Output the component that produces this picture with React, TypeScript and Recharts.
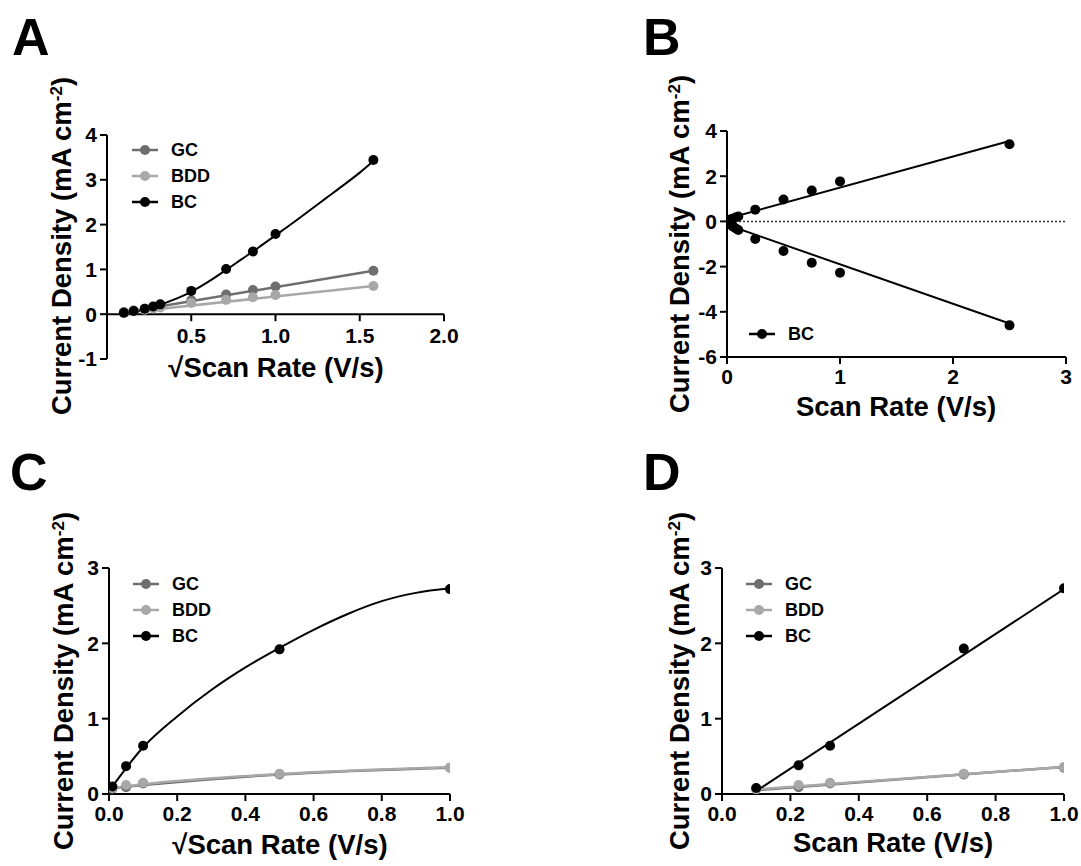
import React from "react";
import { ComposedChart, Line, Scatter, XAxis, YAxis, ReferenceLine } from "recharts";

const FONT = '"Liberation Sans", Arial, Helvetica, sans-serif';
const GC_COLOR = "#6e6e6e";
const BDD_COLOR = "#a8a8a8";
const BC_COLOR = "#000000";

// panel A: current density vs sqrt scan rate
const A_X = [0.1, 0.158, 0.224, 0.274, 0.316, 0.5, 0.707, 0.866, 1.0, 1.581];
const A_GC = [0.05, 0.08, 0.12, 0.15, 0.18, 0.31, 0.44, 0.54, 0.62, 0.97];
const A_BDD = [0.04, 0.07, 0.1, 0.13, 0.15, 0.25, 0.32, 0.38, 0.43, 0.63];
const A_BC = [0.03, 0.07, 0.12, 0.17, 0.22, 0.52, 1.01, 1.4, 1.79, 3.44];
const A_FIT_X = [0.1, 0.2, 0.3, 0.4, 0.5, 0.6, 0.7, 0.8, 0.9, 1.0, 1.1, 1.2, 1.3, 1.4, 1.5, 1.581];
const A_BC_FIT = [0.01, 0.08, 0.19, 0.33, 0.5, 0.72, 0.97, 1.23, 1.49, 1.76, 2.03, 2.31, 2.59, 2.87, 3.16, 3.42];
const A_LIN_X = [0.1, 1.581];
const A_GC_FIT = [0.04, 0.97];
const A_BDD_FIT = [0.03, 0.63];

// panel B: BC oxidation / reduction peaks vs scan rate
const B_X = [0.01, 0.025, 0.05, 0.075, 0.1, 0.25, 0.5, 0.75, 1.0, 2.5];
const B_OX = [0.05, 0.08, 0.12, 0.17, 0.22, 0.52, 0.97, 1.37, 1.77, 3.41];
const B_RED = [-0.05, -0.12, -0.22, -0.3, -0.38, -0.78, -1.31, -1.83, -2.27, -4.6];
const B_LIN_X = [0, 2.5];
const B_OX_FIT = [0.12, 3.56];
const B_RED_FIT = [-0.15, -4.52];

// panel C
const C_X = [0.01, 0.05, 0.1, 0.5, 1.0];
const C_GC = [0.07, 0.09, 0.14, 0.26, 0.35];
const C_BDD = [0.08, 0.12, 0.15, 0.27, 0.35];
const C_BC = [0.1, 0.37, 0.64, 1.92, 2.72];
const C_FIT_X = [0.01, 0.1, 0.2, 0.3, 0.4, 0.5, 0.6, 0.7, 0.8, 0.9, 1.0];
const C_BC_FIT = [0.1, 0.62, 1.03, 1.38, 1.68, 1.94, 2.18, 2.39, 2.56, 2.67, 2.73];
const C_LOW_X = [0.01, 0.1, 0.5, 1.0];
const C_GC_FIT = [0.08, 0.12, 0.26, 0.35];
const C_BDD_FIT = [0.08, 0.13, 0.265, 0.355];

// panel D
const D_X = [0.1, 0.224, 0.316, 0.707, 1.0];
const D_GC = [0.07, 0.09, 0.14, 0.26, 0.35];
const D_BDD = [0.06, 0.12, 0.15, 0.27, 0.36];
const D_BC = [0.08, 0.38, 0.64, 1.93, 2.73];
const D_LIN_X = [0.1, 1.0];
const D_GC_FIT = [0.05, 0.36];
const D_BDD_FIT = [0.06, 0.36];
const D_BC_FIT = [0.04, 2.72];

const pts = (xs: number[], ys: number[]) => xs.map((x, i) => ({ x, y: ys[i] }));

const tickStyle = { fill: "#000", fontSize: 21, fontWeight: 700, fontFamily: FONT };

type LineSpec = { data: { x: number; y: number }[]; color: string; curve?: boolean; width?: number };
type DotSpec = { data: { x: number; y: number }[]; color: string };

function ZeroTick(props: any) {
  const { x, y, payload, shift } = props;
  const y0 = y - shift;
  return (
    <g>
      <line x1={x} x2={x} y1={y0} y2={y0 + 7} stroke="#000" strokeWidth={2} />
      <text x={x} y={y0 + 29} textAnchor="middle" {...tickStyle}>
        {Number(payload.value).toFixed(1)}
      </text>
    </g>
  );
}

function Panel(props: {
  left: number;
  top: number;
  w: number;
  h: number;
  xDomain: number[];
  xTicks: number[];
  xDigits: number;
  yDomain: number[];
  yTicks: number[];
  zeroAxis?: boolean;
  zeroDotted?: boolean;
  lines: LineSpec[];
  dots: DotSpec[];
}) {
  const { left, top, w, h, xDomain, xTicks, xDigits, yDomain, yTicks, zeroAxis, zeroDotted, lines, dots } = props;
  const YW = 50;
  const MT = 18;
  const MR = 26;
  const XH = 40;
  const shift = zeroAxis ? (h * (0 - yDomain[0])) / (yDomain[1] - yDomain[0]) : 0;
  return (
    <div style={{ position: "absolute", left: left - YW, top: top - MT }}>
      <ComposedChart width={YW + w + MR} height={MT + h + XH} margin={{ top: MT, right: MR, bottom: 0, left: 0 }}>
        <XAxis
          type="number"
          dataKey="x"
          domain={xDomain}
          ticks={xTicks}
          interval={0}
          height={XH}
          allowDataOverflow
          axisLine={zeroAxis ? false : { stroke: "#000", strokeWidth: 2 }}
          tickLine={zeroAxis ? false : { stroke: "#000", strokeWidth: 2 }}
          tickSize={zeroAxis ? 0 : 7}
          tickMargin={zeroAxis ? 0 : 5}
          tick={zeroAxis ? (p: any) => <ZeroTick {...p} shift={shift} /> : tickStyle}
          tickFormatter={(v: number) => v.toFixed(xDigits)}
        />
        <YAxis
          type="number"
          domain={yDomain}
          ticks={yTicks}
          interval={0}
          width={YW}
          allowDataOverflow
          axisLine={{ stroke: "#000", strokeWidth: 2 }}
          tickLine={{ stroke: "#000", strokeWidth: 2 }}
          tickSize={7}
          tickMargin={3}
          tick={tickStyle}
        />
        {zeroAxis && <ReferenceLine y={0} stroke="#000" strokeWidth={2} />}
        {zeroDotted && <ReferenceLine y={0} stroke="#333" strokeWidth={1.5} strokeDasharray="2 2" />}
        {lines.map((l, i) => (
          <Line
            key={"l" + i}
            data={l.data}
            dataKey="y"
            type={l.curve ? "monotone" : "linear"}
            stroke={l.color}
            strokeWidth={l.width ?? 2}
            dot={false}
            activeDot={false}
            isAnimationActive={false}
          />
        ))}
        {dots.map((d, i) => (
          <Scatter
            key={"d" + i}
            data={d.data}
            dataKey="y"
            isAnimationActive={false}
            shape={(p: any) => <circle cx={p.cx} cy={p.cy} r={5} fill={d.color} />}
          />
        ))}
      </ComposedChart>
    </div>
  );
}

function LegendBox({ left, top, items }: { left: number; top: number; items: { label: string; color: string }[] }) {
  return (
    <div style={{ position: "absolute", left, top }}>
      {items.map((it) => (
        <div key={it.label} style={{ display: "flex", alignItems: "center", height: 26 }}>
          <svg width={26} height={12}>
            <line x1={0} x2={26} y1={6} y2={6} stroke={it.color} strokeWidth={2.5} />
            <circle cx={13} cy={6} r={5} fill={it.color} />
          </svg>
          <span style={{ marginLeft: 13, fontSize: 18, fontWeight: 700, fontFamily: FONT, color: "#000", lineHeight: "26px" }}>
            {it.label}
          </span>
        </div>
      ))}
    </div>
  );
}

const titleStyle: React.CSSProperties = {
  position: "absolute",
  whiteSpace: "nowrap",
  fontSize: 27.5,
  fontWeight: 700,
  fontFamily: FONT,
  lineHeight: "30px",
  color: "#000",
};

function YTitle({ cx, cy }: { cx: number; cy: number }) {
  return (
    <div style={{ ...titleStyle, left: cx, top: cy, transform: "translate(-50%, -50%) rotate(-90deg)" }}>
      Current Density (mA cm<sup style={{ fontSize: "0.62em", lineHeight: 0, verticalAlign: "0.55em" }}>-2</sup>)
    </div>
  );
}

function XTitle({ cx, cy, text }: { cx: number; cy: number; text: string }) {
  return <div style={{ ...titleStyle, left: cx, top: cy, transform: "translate(-50%, -50%)" }}>{text}</div>;
}

function Letter({ left, top, text }: { left: number; top: number; text: string }) {
  return (
    <div style={{ position: "absolute", left, top, fontSize: 52, lineHeight: "52px", fontWeight: 700, fontFamily: FONT }}>
      {text}
    </div>
  );
}

const threeLegend = [
  { label: "GC", color: GC_COLOR },
  { label: "BDD", color: BDD_COLOR },
  { label: "BC", color: BC_COLOR },
];

export default function App() {
  return (
    <div style={{ position: "absolute", left: 0, top: 0, width: 1081, height: 866, background: "#fff", overflow: "hidden" }}>
      <Letter left={12} top={11} text="A" />
      <Letter left={643} top={11} text="B" />
      <Letter left={10} top={446} text="C" />
      <Letter left={643} top={446} text="D" />

      <Panel
        left={107}
        top={135}
        w={337}
        h={224}
        xDomain={[0, 2]}
        xTicks={[0.5, 1, 1.5, 2]}
        xDigits={1}
        yDomain={[-1, 4]}
        yTicks={[-1, 0, 1, 2, 3, 4]}
        zeroAxis
        lines={[
          { data: pts(A_LIN_X, A_GC_FIT), color: GC_COLOR, width: 2.5 },
          { data: pts(A_LIN_X, A_BDD_FIT), color: BDD_COLOR, width: 2.5 },
          { data: pts(A_FIT_X, A_BC_FIT), color: BC_COLOR, curve: true },
        ]}
        dots={[
          { data: pts(A_X, A_GC), color: GC_COLOR },
          { data: pts(A_X, A_BDD), color: BDD_COLOR },
          { data: pts(A_X, A_BC), color: BC_COLOR },
        ]}
      />
      <LegendBox left={132} top={137} items={threeLegend} />
      <YTitle cx={62} cy={246} />
      <XTitle cx={276} cy={368} text="√Scan Rate (V/s)" />

      <Panel
        left={727}
        top={131}
        w={339}
        h={226}
        xDomain={[0, 3]}
        xTicks={[0, 1, 2, 3]}
        xDigits={0}
        yDomain={[-6, 4]}
        yTicks={[-6, -4, -2, 0, 2, 4]}
        zeroDotted
        lines={[
          { data: pts(B_LIN_X, B_OX_FIT), color: BC_COLOR },
          { data: pts(B_LIN_X, B_RED_FIT), color: BC_COLOR },
        ]}
        dots={[
          { data: pts(B_X, B_OX), color: BC_COLOR },
          { data: pts(B_X, B_RED), color: BC_COLOR },
        ]}
      />
      <LegendBox left={749} top={321} items={[{ label: "BC", color: BC_COLOR }]} />
      <YTitle cx={680} cy={244} />
      <XTitle cx={896} cy={407} text="Scan Rate (V/s)" />

      <Panel
        left={109}
        top={568}
        w={341}
        h={226}
        xDomain={[0, 1]}
        xTicks={[0, 0.2, 0.4, 0.6, 0.8, 1]}
        xDigits={1}
        yDomain={[0, 3]}
        yTicks={[0, 1, 2, 3]}
        lines={[
          { data: pts(C_LOW_X, C_GC_FIT), color: GC_COLOR, curve: true, width: 2.5 },
          { data: pts(C_LOW_X, C_BDD_FIT), color: BDD_COLOR, curve: true, width: 2.5 },
          { data: pts(C_FIT_X, C_BC_FIT), color: BC_COLOR, curve: true },
        ]}
        dots={[
          { data: pts(C_X, C_GC), color: GC_COLOR },
          { data: pts(C_X, C_BDD), color: BDD_COLOR },
          { data: pts(C_X, C_BC), color: BC_COLOR },
        ]}
      />
      <LegendBox left={133} top={571} items={threeLegend} />
      <YTitle cx={64} cy={681} />
      <XTitle cx={280} cy={845} text="√Scan Rate (V/s)" />

      <Panel
        left={722}
        top={568}
        w={342}
        h={226}
        xDomain={[0, 1]}
        xTicks={[0, 0.2, 0.4, 0.6, 0.8, 1]}
        xDigits={1}
        yDomain={[0, 3]}
        yTicks={[0, 1, 2, 3]}
        lines={[
          { data: pts(D_LIN_X, D_GC_FIT), color: GC_COLOR, width: 2.5 },
          { data: pts(D_LIN_X, D_BDD_FIT), color: BDD_COLOR, width: 2.5 },
          { data: pts(D_LIN_X, D_BC_FIT), color: BC_COLOR },
        ]}
        dots={[
          { data: pts(D_X, D_GC), color: GC_COLOR },
          { data: pts(D_X, D_BDD), color: BDD_COLOR },
          { data: pts(D_X, D_BC), color: BC_COLOR },
        ]}
      />
      <LegendBox left={746} top={571} items={threeLegend} />
      <YTitle cx={680} cy={681} />
      <XTitle cx={893} cy={843} text="Scan Rate (V/s)" />
    </div>
  );
}
